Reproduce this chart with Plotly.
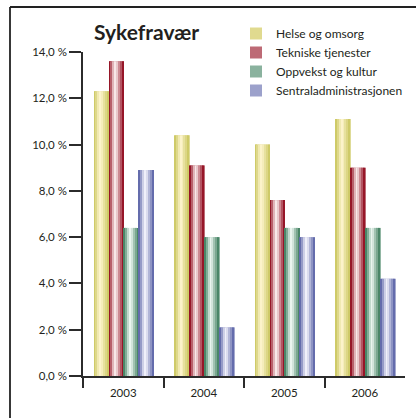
import plotly.graph_objects as go

# ---- data ----
years = ["2003", "2004", "2005", "2006"]
series_names = ["Helse og omsorg", "Tekniske tjenester", "Oppvekst og kultur", "Sentraladministrasjonen"]
helse = [12.3, 10.4, 10.0, 11.1]
tekniske = [13.6, 9.1, 7.6, 9.0]
oppvekst = [6.4, 6.0, 6.4, 6.4]
sentral = [8.9, 2.1, 6.0, 4.2]
y_tick_vals = [0, 2, 4, 6, 8, 10, 12, 14]
y_tick_text = ["0,0 %", "2,0 %", "4,0 %", "6,0 %", "8,0 %", "10,0 %", "12,0 %", "14,0 %"]
title_text = "Sykefravær"

# ---- styling ----
edge_colors = [(206, 202, 104), (150, 22, 40), (74, 134, 104), (100, 108, 172)]
light_colors = [(252, 243, 202), (248, 232, 232), (234, 245, 239), (240, 240, 250)]
profile = [0.0, 0.35, 0.75, 1.0, 0.85, 0.55, 0.3, 0.0]

W, H = 416, 418
L, R, T, B = 83, 11, 52, 42
pw, ph = W - L - R, H - T - B

def mix(a, b, t):
    return "rgb(%d,%d,%d)" % tuple(round(a[i] + (b[i] - a[i]) * t) for i in range(3))

all_vals = [helse, tekniske, oppvekst, sentral]
x_idx = list(range(len(years)))
bw = 0.186
off0 = -0.363

fig = go.Figure()
for s, (name, vals) in enumerate(zip(series_names, all_vals)):
    base_off = off0 + s * bw
    fig.add_trace(go.Bar(x=x_idx, y=vals, name=name, offset=base_off, width=bw,
                         marker=dict(color=mix(edge_colors[s], light_colors[s], 0.4), line=dict(width=0)),
                         showlegend=True))
    n = len(profile)
    for k, t in enumerate(profile):
        fig.add_trace(go.Bar(x=x_idx, y=vals, offset=base_off + k * bw / n, width=bw / n,
                             marker=dict(color=mix(edge_colors[s], light_colors[s], t), line=dict(width=0)),
                             showlegend=False, hoverinfo="skip"))

def px(x):
    return (x - L) / pw

def py(y):
    return (H - B - y) / ph

axis_col = "#2b2b2b"
fig.update_layout(
    width=W, height=H,
    margin=dict(l=L, r=R, t=T, b=B, pad=0, autoexpand=False),
    paper_bgcolor="white", plot_bgcolor="white",
    barmode="overlay",
    font=dict(family="Lato", color="#231f20"),
    title=dict(text="<b>%s</b>" % title_text, x=94 / W, xref="container", xanchor="left",
               y=1 - 33 / H, yref="container", yanchor="middle",
               font=dict(family="Lato", size=21, color="#231f20")),
    xaxis=dict(range=[-0.5, len(years) - 0.5], tickmode="array", tickvals=x_idx, ticktext=years,
               ticks="outside", ticklen=5, tickcolor="rgba(0,0,0,0)",
               showline=True, linecolor=axis_col, linewidth=1.5,
               showgrid=False, zeroline=False, tickfont=dict(size=11.5, color="#231f20"),
               minor=dict(tickmode="array", tickvals=[i - 0.5 for i in x_idx], ticks="outside",
                          ticklen=10, tickcolor=axis_col, tickwidth=1.5, showgrid=False)),
    yaxis=dict(range=[0, 14], tickmode="array", tickvals=y_tick_vals, ticktext=y_tick_text,
               ticks="outside", ticklen=12, tickcolor=axis_col, tickwidth=1.5,
               showline=True, linecolor=axis_col, linewidth=1.5,
               showgrid=False, zeroline=False, tickfont=dict(size=11.5, color="#231f20")),
    legend=dict(x=236 / W, y=1 - 19 / H, xref="container", yref="container",
                xanchor="left", yanchor="top", bgcolor="rgba(0,0,0,0)",
                font=dict(family="Lato", size=12, color="#231f20"), tracegroupgap=0),
    shapes=[
        dict(type="line", xref="paper", yref="paper", x0=px(10), x1=px(430), y0=py(7), y1=py(7),
             line=dict(color="#222", width=1.8)),
        dict(type="line", xref="paper", yref="paper", x0=px(10), x1=px(10), y0=py(7), y1=py(430),
             line=dict(color="#222", width=1.8)),
    ],
)

fig.write_html("out.html", config={"displayModeBar": False},
               post_script="document.body.style.margin='0px';document.body.style.padding='0px';document.body.style.overflow='hidden';")
